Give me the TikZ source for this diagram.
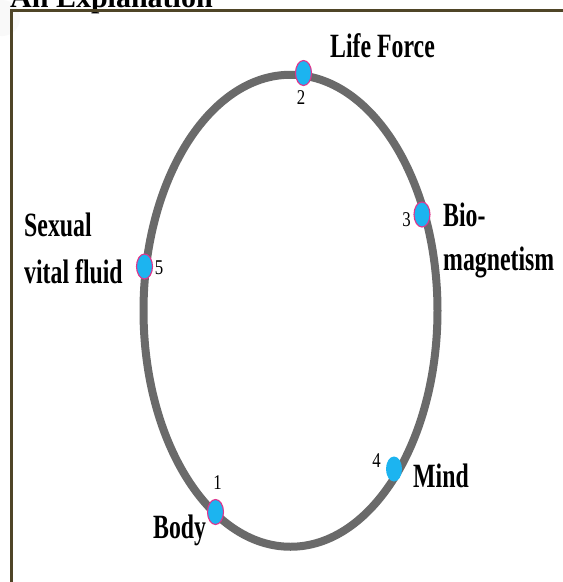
\documentclass[tikz,border=0pt]{standalone}
\usepackage{fontspec}
\setmainfont{Liberation Serif}
\usetikzlibrary{shapes.geometric}
\definecolor{framecol}{HTML}{4F4527}
\definecolor{ringcol}{HTML}{6A6A6A}
\definecolor{dotblue}{HTML}{1CB4F0}
\definecolor{dotrim}{HTML}{E0348C}
\begin{document}
\begin{tikzpicture}[x=1pt,y=-1pt,
  lab/.style={anchor=base west,inner sep=0pt,font=\fontsize{34}{40}\selectfont\bfseries},
  num/.style={inner sep=0pt,font=\fontsize{21}{24}\selectfont},
  marker/.style={ellipse,fill=dotblue,draw=dotrim,line width=1.1pt,minimum width=16pt,minimum height=25pt,inner sep=0pt},
  ring/.style={draw=ringcol,line width=8pt},
  framestyle/.style={draw=framecol,line width=3pt}]
\useasboundingbox (0,0) rectangle (563,582);
\clip (0,0) rectangle (563,582);
\fill[white] (0,0) rectangle (563,582);
\fill[gray!5] (2,18) circle [radius=18pt];
% title (cut off at the top)
\node[anchor=base west,inner sep=0pt,font=\fontsize{30}{34}\selectfont\bfseries] (title) at (10,7) {An Explanation};
% frame
\draw[framestyle] (11.5,582) |- (563,10.5);
% ring
\coordinate (c) at (290.5,310.75);
\draw[ring] (c) ellipse [x radius=147pt, y radius=236pt];
% markers
\node[marker] (m2) at (303.5,73) {};
\node[marker] (m3) at (422,214.5) {};
\node[marker] (m5) at (144.5,266.5) {};
\node[marker,draw=none] (m4) at (394,469) {};
\node[marker] (m1) at (215.5,512) {};
% numbers
\node[num] (n2) at (301,97.5) {\scalebox{0.8}[1]{2}};
\node[num] (n3) at (406.5,219.5) {\scalebox{0.8}[1]{3}};
\node[num] (n5) at (159,268) {\scalebox{0.8}[1]{5}};
\node[num] (n4) at (376.5,461) {\scalebox{0.8}[1]{4}};
\node[num] (n1) at (217.5,483) {\scalebox{0.8}[1]{1}};
% labels
\node[lab] (life) at (330,57) {\scalebox{0.7}[1]{Life Force}};
\node[lab] (bio) at (443,226) {\scalebox{0.7}[1]{Bio-}};
\node[lab] (mag) at (443,270) {\scalebox{0.7}[1]{magnetism}};
\node[lab] (sex) at (24,236) {\scalebox{0.7}[1]{Sexual}};
\node[lab] (vital) at (24,283) {\scalebox{0.7}[1]{vital fluid}};
\node[lab] (mind) at (413,487) {\scalebox{0.7}[1]{Mind}};
\node[lab] (body) at (153,538) {\scalebox{0.7}[1]{Body}};
\end{tikzpicture}
\end{document}
